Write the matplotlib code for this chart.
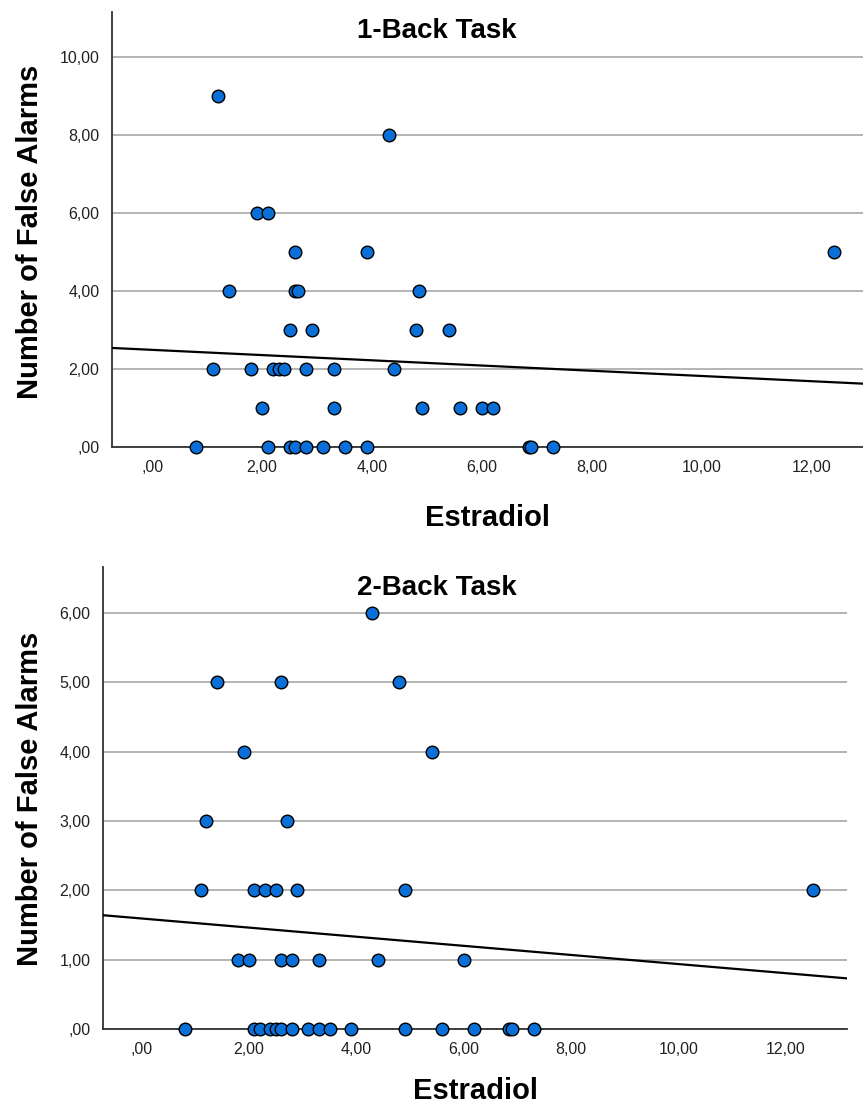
import numpy as np
import matplotlib
matplotlib.use('Agg')
import matplotlib.pyplot as plt
from matplotlib.ticker import FuncFormatter

plt.rcParams['font.family'] = ['Liberation Sans', 'DejaVu Sans']

# 1-back: estradiol vs false alarms
e1 = [1.2, 4.3, 1.9, 2.1, 2.6, 3.9, 12.4,
      1.4, 2.6, 2.65, 4.85,
      2.5, 2.9, 4.8, 5.4,
      1.1, 1.8, 2.2, 2.3, 2.4, 2.8, 3.3, 4.4,
      2.0, 3.3, 4.9, 5.6, 6.0, 6.2,
      0.8, 2.1, 2.5, 2.6, 2.8, 3.1, 3.5, 3.9, 6.85, 6.9, 7.3]
fa1 = [9, 8, 6, 6, 5, 5, 5,
       4, 4, 4, 4,
       3, 3, 3, 3,
       2, 2, 2, 2, 2, 2, 2, 2,
       1, 1, 1, 1, 1, 1,
       0, 0, 0, 0, 0, 0, 0, 0, 0, 0, 0]
fit1 = (2.49, -0.067)   # intercept, slope of the fit line as drawn

# 2-back
e2 = [4.3,
      1.4, 2.6, 4.8,
      1.9, 5.4,
      1.2, 2.7,
      1.1, 2.1, 2.3, 2.5, 2.9, 4.9, 12.5,
      1.8, 2.0, 2.6, 2.8, 3.3, 4.4, 6.0,
      0.8, 2.1, 2.2, 2.4, 2.5, 2.6, 2.8, 3.1, 3.3, 3.5, 3.9, 4.9, 5.6, 6.2, 6.85, 6.9, 7.3]
fa2 = [6,
       5, 5, 5,
       4, 4,
       3, 3,
       2, 2, 2, 2, 2, 2, 2,
       1, 1, 1, 1, 1, 1, 1,
       0, 0, 0, 0, 0, 0, 0, 0, 0, 0, 0, 0, 0, 0, 0, 0, 0]
fit2 = (1.593, -0.0657)


def comma(v, p):
    s = ('%.2f' % v).replace('.', ',')
    return s[1:] if s.startswith('0') else s


fig = plt.figure(figsize=(8.63, 11.07), dpi=100)
ax1 = fig.add_axes([112/863, 1-447/1107, 751/863, 435/1107])
ax2 = fig.add_axes([103/863, 1-1029/1107, 744/863, 462/1107])


def panel(ax, x, y, fit, xlim, ylim, yticks, title, title_y, xlab_pad, ylab_y):
    ax.set_xlim(*xlim)
    ax.set_ylim(*ylim)
    ax.set_yticks(yticks)
    ax.set_xticks(np.arange(0, 13, 2))
    ax.xaxis.set_major_formatter(FuncFormatter(comma))
    ax.yaxis.set_major_formatter(FuncFormatter(comma))
    ax.grid(axis='y', color='#b4b4b4', lw=1.4)
    ax.set_axisbelow(True)
    for s in ['top', 'right']:
        ax.spines[s].set_visible(False)
    for s in ['left', 'bottom']:
        ax.spines[s].set_color('#333333')
        ax.spines[s].set_linewidth(1.3)
        ax.spines[s].set_zorder(2)
    ax.tick_params(length=0, labelsize=11.5, pad=9, colors='#222222')
    ax.axline((0, fit[0]), slope=fit[1], color='black', lw=1.6, zorder=3)
    ax.scatter(x, y, s=82, c='#0a6fd6', edgecolors='black', linewidths=1.0,
               zorder=4, clip_on=False)
    ax.set_xlabel('Estradiol', fontsize=21, fontweight='bold', labelpad=xlab_pad)
    ax.set_ylabel('Number of False Alarms', fontsize=21, fontweight='bold')
    ax.yaxis.set_label_coords(44/863, ylab_y, transform=fig.transFigure)
    fig.text(437/863, 1-title_y/1107, title, fontsize=20, fontweight='bold',
             ha='center', va='center')


panel(ax1, e1, fa1, fit1, (-0.73, 12.93), (0, 11.15), np.arange(0, 11, 2),
      '1-Back Task', 31, 21, 1-232/1107)
panel(ax2, e2, fa2, fit2, (-0.72, 13.14), (0, 6.66), np.arange(0, 7, 1),
      '2-Back Task', 588, 15, 1-799/1107)

fig.savefig('out.png', dpi=100)
